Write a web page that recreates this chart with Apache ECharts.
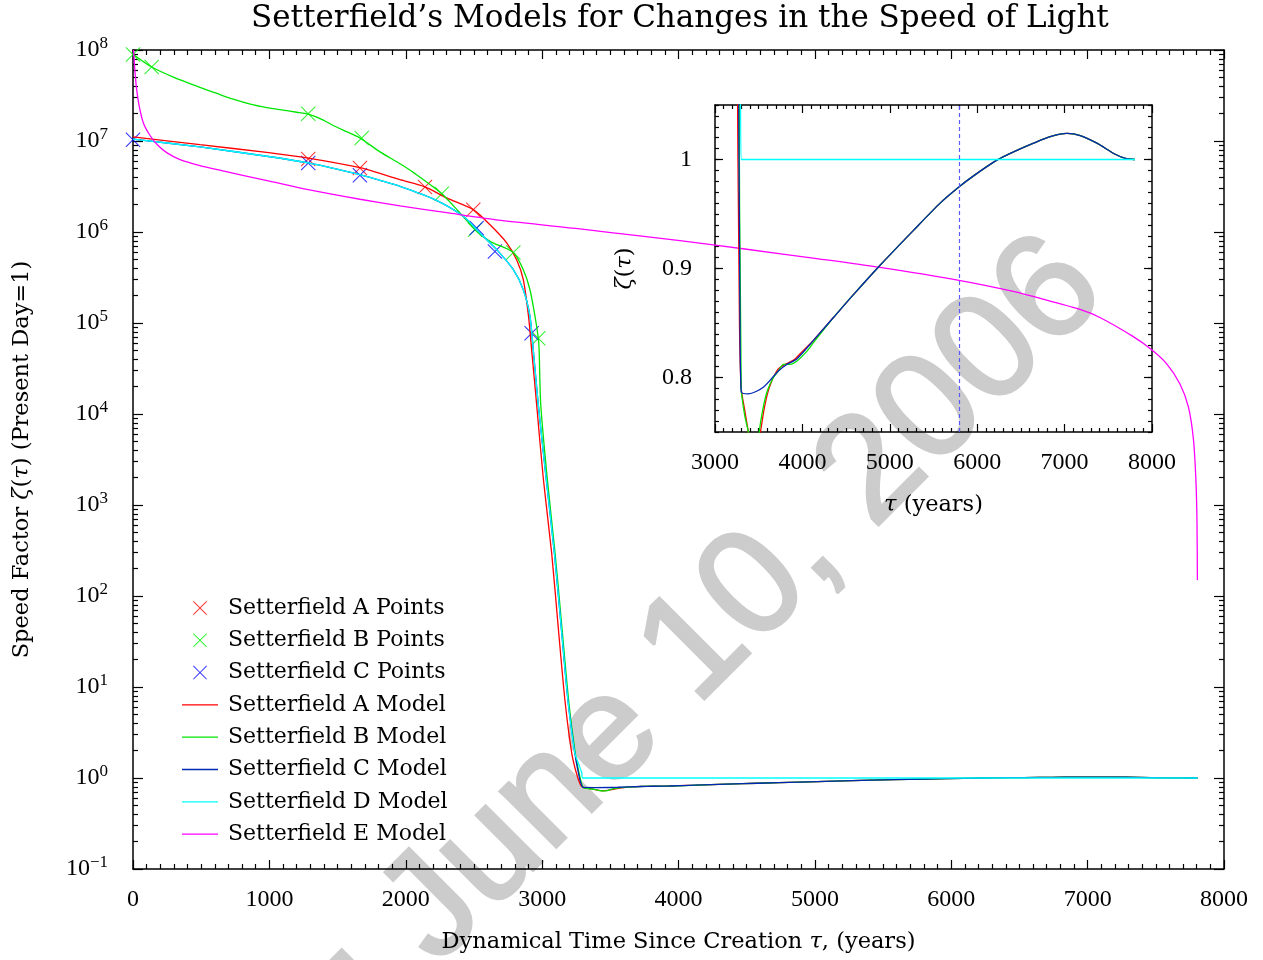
<!DOCTYPE html>
<html><head><meta charset="utf-8">
<script src="https://cdn.jsdelivr.net/npm/echarts@6/dist/echarts.min.js"></script>
<style>html,body{margin:0;padding:0;background:#fff}#c{width:1263px;height:960px}</style>
</head><body><div id="c"></div>
<script>
// ---------- data ----------
const tauPtsA = [1285, 1664, 2141, 2495];
const zetaPtsA = [6.35e6, 5.06e6, 3.13e6, 1.76e6];
const tauPtsB = [0, 137, 1285, 1677, 2264, 2508, 2789, 2972];
const zetaPtsB = [8.9e7, 6.5e7, 1.99e7, 1.08e7, 2.64e6, 1.06e6, 5.97e5, 6.8e4];
const tauPtsC = [0, 1285, 1664, 2520, 2654, 2923];
const zetaPtsC = [1.03e7, 5.74e6, 4.2e6, 1.11e6, 6.1e5, 7.7e4];

// common late-time behaviour (models A, B, C coincide here)
const tauTail = [4355, 4584, 4889, 5271, 5576, 5794, 5958, 6225, 6416, 6645, 6836, 7027, 7179, 7370, 7561, 7695, 7805];
const zetaTail = [0.855, 0.876, 0.903, 0.935, 0.960, 0.975, 0.985, 0.9994, 1.007, 1.015, 1.021, 1.024, 1.022, 1.015, 1.0055, 1.001, 1.0];

const tauA = [0, 491, 980, 1285, 1664, 1811, 1958, 2141, 2300, 2495, 2618, 2740, 2813, 2862, 2899, 2923, 2960, 3009, 3070, 3118, 3168, 3217, 3250, 3280, 3300, 3340, 3382, 3440, 3480, 3520, 3560, 3600, 3650, 3700, 3725, 3800, 3900, 4000, 4126];
const zetaA = [1.11e7, 9.1e6, 7.5e6, 6.5e6, 5.1e6, 4.4e6, 3.76e6, 3.13e6, 2.37e6, 1.76e6, 1.2e6, 7.6e5, 4.95e5, 3.0e5, 1.23e5, 5.1e4, 1.26e4, 1930, 296, 45.5, 6.98, 1.88, 1.15, 0.85, 0.79, 0.77, 0.75, 0.725, 0.73, 0.75, 0.77, 0.785, 0.797, 0.805, 0.808, 0.812, 0.816, 0.824, 0.834];

const tauB = [0, 137, 300, 491, 620, 735, 860, 980, 1102, 1200, 1285, 1380, 1469, 1570, 1664, 1811, 1958, 2055, 2264, 2398, 2508, 2618, 2789, 2862, 2911, 2948, 2972, 2978, 2990, 3038, 3095, 3145, 3195, 3243, 3272, 3300, 3340, 3382, 3440, 3480, 3505, 3550, 3600, 3668, 3725, 3782, 3850, 3935, 4050, 4126];
const zetaB = [9.0e7, 6.5e7, 5.01e7, 3.89e7, 3.31e7, 2.88e7, 2.54e7, 2.33e7, 2.18e7, 2.07e7, 1.97e7, 1.74e7, 1.48e7, 1.26e7, 1.08e7, 7.59e6, 5.62e6, 4.52e6, 2.64e6, 1.62e6, 1.06e6, 7.9e5, 5.97e5, 3.85e5, 2.32e5, 1.18e5, 6.8e4, 5.07e4, 1.26e4, 1930, 296, 45.5, 6.98, 1.88, 1.12, 0.79, 0.765, 0.75, 0.72, 0.728, 0.75, 0.772, 0.788, 0.80, 0.806, 0.812, 0.812, 0.815, 0.824, 0.832];

const tauC = [0, 491, 980, 1285, 1664, 1811, 1958, 2202, 2422, 2544, 2667, 2789, 2862, 2911, 2935, 2972, 3030, 3090, 3140, 3190, 3240, 3265, 3285, 3300, 3382, 3553, 3725, 3821, 3935, 4126];
const zetaC = [1.05e7, 8.6e6, 6.8e6, 5.74e6, 4.27e6, 3.7e6, 3.18e6, 2.31e6, 1.49e6, 9.75e5, 6.4e5, 3.85e5, 2.32e5, 1.18e5, 5.07e4, 1.26e4, 1930, 296, 45.5, 6.98, 1.88, 1.15, 0.87, 0.787, 0.785, 0.791, 0.806, 0.812, 0.817, 0.834];

const tauD = [0, 491, 980, 1285, 1664, 1811, 1958, 2202, 2422, 2544, 2667, 2789, 2862, 2911, 2935, 2972, 3030, 3090, 3140, 3190, 3240, 3270, 3290, 3298, 7805];
const zetaD = [1.05e7, 8.6e6, 6.8e6, 5.74e6, 4.27e6, 3.7e6, 3.18e6, 2.31e6, 1.49e6, 9.75e5, 6.4e5, 3.85e5, 2.32e5, 1.18e5, 5.07e4, 1.26e4, 1930, 296, 45.5, 6.98, 1.88, 1.4, 1.15, 1.0, 1.0];

const tauE = [4, 7, 15, 27, 46, 76, 125, 180, 250, 345, 491, 650, 830, 1000, 1285, 1664, 1958, 2300, 2700, 3278, 3700, 4011, 4500, 5000, 5477, 6057, 6455, 6700, 6944, 7090, 7335, 7470, 7580, 7677, 7739, 7776, 7795, 7802, 7805];
const zetaE = [1.0e8, 8.51e7, 5.62e7, 3.67e7, 2.40e7, 1.58e7, 1.15e7, 9.02e6, 7.41e6, 6.24e6, 5.37e6, 4.73e6, 4.12e6, 3.63e6, 2.92e6, 2.29e6, 1.94e6, 1.63e6, 1.34e6, 1.08e6, 9.12e5, 8.04e5, 6.46e5, 5.13e5, 4.08e5, 2.94e5, 2.22e5, 1.78e5, 1.41e5, 1.15e5, 7.08e4, 5.07e4, 3.55e4, 2.14e4, 1.20e4, 5.25e3, 1.74e3, 631, 150];

const presentDayTau = 5794;

const xTicksMain = [0, 8000, 1000];
const yDecades = [-1, 8];
const minorMult = [2, 3, 4, 5, 6, 7, 8, 9];
const insetX = [3000, 8000, 1000];
const insetY = [0.75, 1.05];
const insetYLabels = [0.8, 0.9, 1.0];

const seriesNames = ['Setterfield A Points', 'Setterfield B Points', 'Setterfield C Points',
  'Setterfield A Model', 'Setterfield B Model', 'Setterfield C Model', 'Setterfield D Model', 'Setterfield E Model'];
const colors = {A: '#ff0000', B: '#00e600', Bp: '#00f000', C: '#0000ff', Cm: '#0028b4', D: '#00ffff', E: '#ff00ff'};
const watermarkText = 'Draft: June 10, 2006';

// ---------- helpers ----------
const zip = (t, z) => t.map((v, i) => [v, z[i]]);
const tail = zip(tauTail, zetaTail);
const dataA = zip(tauA, zetaA).concat(tail);
const dataB = zip(tauB, zetaB).concat(tail);
const dataC = zip(tauC, zetaC).concat(tail);
const dataD = zip(tauD, zetaD);
const dataE = zip(tauE, zetaE);

const minorLog = [];
for (let d = yDecades[0]; d < yDecades[1]; d++) minorMult.forEach(m => minorLog.push(m * Math.pow(10, d)));
const insetMinor = [];
for (let k = 75; k <= 105; k++) insetMinor.push(k / 100);

const FONT = 'DejaVu Serif';
const NUMFONT = 'Liberation Serif';
const X_SYM = 'path://M1,0 L10,9 L19,0 L20,1 L11,10 L20,19 L19,20 L10,11 L1,20 L0,19 L9,10 L0,1 Z';
const LINE_ICON = 'path://M0,0 L40,0 L40,1.4 L0,1.4 Z';
const axisLineStyle = {color: '#000', width: 1.5};
const nameRich = {n: {fontFamily: FONT, fontSize: 22.5, color: '#000'}, i: {fontFamily: FONT, fontSize: 22.5, fontStyle: 'italic', color: '#000'}};

function supFmt(v) {
  const e = Math.round(Math.log10(v));
  return '{b|10}{s|' + (e < 0 ? '\u2212' + (-e) : e) + '}';
}

const mainX = (pos, labels) => ({
  type: 'value', gridIndex: 0, position: pos, min: xTicksMain[0], max: xTicksMain[1], interval: xTicksMain[2],
  axisLine: {show: true, onZero: false, lineStyle: axisLineStyle},
  axisTick: {show: true, inside: true, length: 9, lineStyle: {color: '#000', width: 1.2}},
  minorTick: {show: true, splitNumber: 10, length: 5, lineStyle: {color: '#000', width: 1.2}},
  axisLabel: {show: labels, margin: 19, fontFamily: NUMFONT, fontSize: 24, color: '#000', formatter: v => String(v)},
  splitLine: {show: false},
  name: labels ? '{n|Dynamical Time Since Creation }{i|\u03c4}{n|, (years)}' : '',
  nameLocation: 'middle', nameGap: 62,
  nameTextStyle: {rich: nameRich}
});
const mainY = (pos, kind) => ({
  type: 'log', logBase: 10, gridIndex: 0, position: pos, min: 0.1, max: 1e8, interval: 1,
  axisLine: {show: kind !== 'minor', onZero: false, lineStyle: axisLineStyle},
  axisTick: kind === 'minor'
    ? {show: true, inside: true, length: 5, customValues: minorLog, lineStyle: {color: '#000', width: 1.2}}
    : {show: true, inside: true, length: 10, lineStyle: {color: '#000', width: 1.2}},
  axisLabel: {show: kind === 'label', margin: 25, formatter: supFmt, color: '#000',
    rich: {b: {fontFamily: NUMFONT, fontSize: 24, lineHeight: 30, color: '#000'}, s: {fontFamily: NUMFONT, fontSize: 17, verticalAlign: 'top', lineHeight: 30, color: '#000'}}},
  splitLine: {show: false},
  name: kind === 'label' ? '{n|Speed Factor }{i|\u03b6}{n|(}{i|\u03c4}{n|) (Present Day=1)}' : '',
  nameLocation: 'middle', nameGap: 99,
  nameTextStyle: {rich: nameRich}
});
const insX = (pos, labels) => ({
  type: 'value', gridIndex: 1, position: pos, min: insetX[0], max: insetX[1], interval: insetX[2],
  axisLine: {show: true, onZero: false, lineStyle: axisLineStyle},
  axisTick: {show: true, inside: true, length: 8, lineStyle: {color: '#000', width: 1.2}},
  minorTick: {show: true, splitNumber: 10, length: 4, lineStyle: {color: '#000', width: 1.2}},
  axisLabel: {show: labels, margin: 19, fontFamily: NUMFONT, fontSize: 24, color: '#000', formatter: v => String(v)},
  splitLine: {show: false},
  name: labels ? '{i|\u03c4}{n| (years)}' : '',
  nameLocation: 'middle', nameGap: 62,
  nameTextStyle: {rich: nameRich}
});
const insY = (pos, kind) => ({
  type: 'value', gridIndex: 1, position: pos, min: insetY[0], max: insetY[1],
  axisLine: {show: kind !== 'minor', onZero: false, lineStyle: axisLineStyle},
  axisTick: {show: true, inside: true, length: kind === 'minor' ? 4 : 8, customValues: kind === 'minor' ? insetMinor : insetYLabels, lineStyle: {color: '#000', width: 1.2}},
  axisLabel: {show: kind === 'label', margin: 23, customValues: insetYLabels, fontFamily: NUMFONT, fontSize: 24, color: '#000',
    formatter: v => (Math.abs(v - 1) < 1e-9 ? '1' : v.toFixed(1))},
  splitLine: {show: false},
  name: kind === 'label' ? '{i|\u03b6}{n|(}{i|\u03c4}{n|)}' : '',
  nameLocation: 'middle', nameGap: 78,
  nameTextStyle: {rich: nameRich}
});

const lineS = (name, data, color, xi, yi, extra) => Object.assign({
  name, type: 'line', data, xAxisIndex: xi, yAxisIndex: yi, showSymbol: false, symbol: 'none',
  smooth: 0.25, clip: true, lineStyle: {color, width: 1.3}, itemStyle: {color}, emphasis: {disabled: true}
}, extra || {});
const ptS = (name, data, color) => ({
  name, type: 'scatter', data, xAxisIndex: 0, yAxisIndex: 0, symbol: X_SYM, symbolSize: 15,
  itemStyle: {color}, emphasis: {disabled: true}
});

const option = {
  animation: false,
  backgroundColor: '#fff',
  title: {text: 'Setterfield\u2019s Models for Changes in the Speed of Light', left: 251, top: -2,
    padding: [5, 0, 5, 0],
    textStyle: {fontFamily: FONT, fontSize: 31, fontWeight: 'normal', color: '#000'}},
  grid: [
    {left: 133, right: 39, top: 50, bottom: 91},
    {left: 715, top: 105, width: 437, height: 327}
  ],
  xAxis: [mainX('bottom', true), mainX('top', false), insX('bottom', true), insX('top', false)],
  yAxis: [mainY('left', 'label'), mainY('right', 'major'), mainY('left', 'minor'), mainY('right', 'minor'),
    insY('left', 'label'), insY('right', 'major'), insY('left', 'minor'), insY('right', 'minor')],
  legend: {
    orient: 'vertical', left: 177, top: 592, itemWidth: 36, itemHeight: 14, itemGap: 10.3,
    selectedMode: false,
    textStyle: {fontFamily: FONT, fontSize: 22, lineHeight: 22, color: '#000', padding: [0, 0, 0, 5]},
    data: [
      {name: seriesNames[0], icon: X_SYM},
      {name: seriesNames[1], icon: X_SYM},
      {name: seriesNames[2], icon: X_SYM},
      {name: seriesNames[3], icon: LINE_ICON},
      {name: seriesNames[4], icon: LINE_ICON},
      {name: seriesNames[5], icon: LINE_ICON},
      {name: seriesNames[6], icon: LINE_ICON},
      {name: seriesNames[7], icon: LINE_ICON}
    ]
  },
  graphic: [{
    type: 'text', x: 1133, y: 318, rotation: 45 * Math.PI / 180, z: -10, silent: true,
    style: {text: watermarkText, fontFamily: 'Liberation Sans', fontSize: 150, fill: '#cccccc',
      stroke: '#cccccc', lineWidth: 3, align: 'right', verticalAlign: 'bottom'}
  }],
  series: [
    ptS(seriesNames[0], zip(tauPtsA, zetaPtsA), colors.A),
    ptS(seriesNames[1], zip(tauPtsB, zetaPtsB), colors.Bp),
    ptS(seriesNames[2], zip(tauPtsC, zetaPtsC), colors.C),
    lineS(seriesNames[3], dataA, colors.A, 0, 0),
    lineS(seriesNames[4], dataB, colors.B, 0, 0),
    lineS(seriesNames[5], dataC, colors.Cm, 0, 0),
    lineS(seriesNames[6], dataD, colors.D, 0, 0),
    lineS(seriesNames[7], dataE, colors.E, 0, 0),
    lineS(seriesNames[3], dataA, colors.A, 2, 4),
    lineS(seriesNames[4], dataB, colors.B, 2, 4),
    lineS(seriesNames[5], dataC, colors.Cm, 2, 4, {
      markLine: {silent: true, symbol: ['none', 'none'], label: {show: false},
        lineStyle: {color: '#5a5aff', type: [4, 3], width: 1.2},
        data: [{xAxis: presentDayTau}]}
    }),
    lineS(seriesNames[6], dataD, colors.D, 2, 4)
  ]
};

const chart = echarts.init(document.getElementById('c'), null, {renderer: 'canvas'});
chart.setOption(option);
</script>
</body></html>
